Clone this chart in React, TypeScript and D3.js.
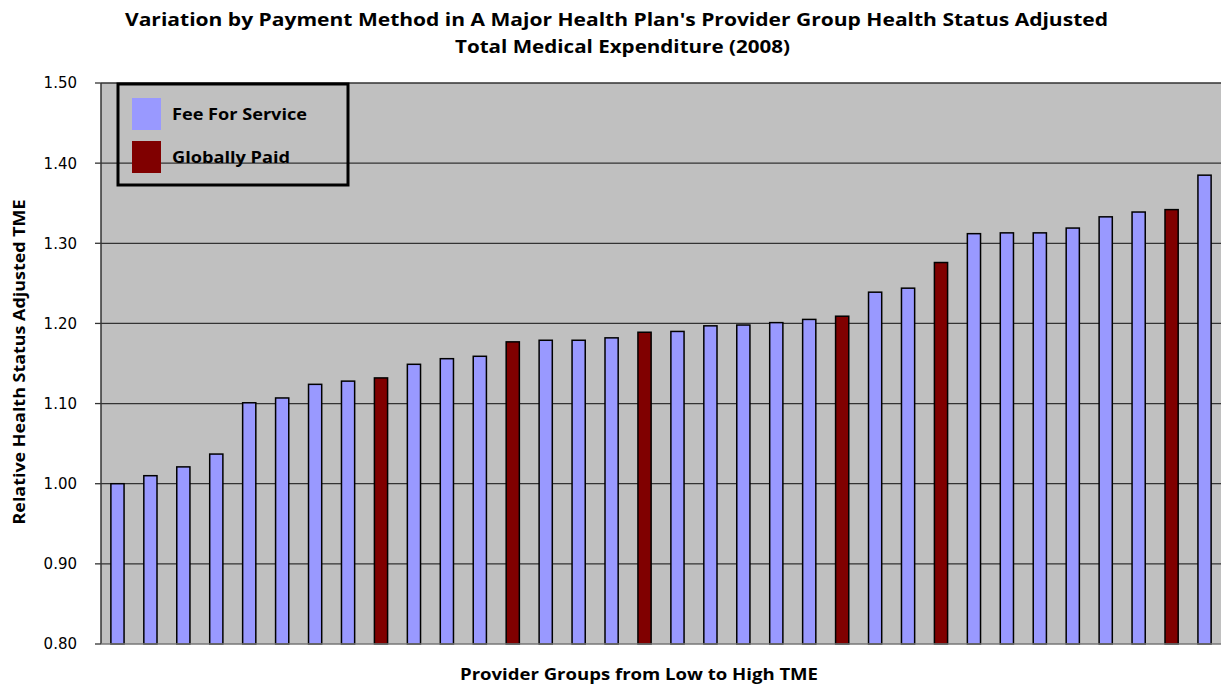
import * as d3 from 'd3'

// Provider groups sorted from low to high TME
const values = [
  1.0, 1.01, 1.021, 1.037, 1.101, 1.107, 1.124, 1.128, 1.132, 1.149, 1.156, 1.159,
  1.177, 1.179, 1.179, 1.182, 1.189, 1.19, 1.197, 1.198, 1.201, 1.205, 1.209, 1.239,
  1.244, 1.276, 1.312, 1.313, 1.313, 1.319, 1.333, 1.339, 1.342, 1.385,
]
// payment method for each group: F = Fee For Service, G = Globally Paid
const methods = [
  'F', 'F', 'F', 'F', 'F', 'F', 'F', 'F', 'G', 'F', 'F', 'F',
  'G', 'F', 'F', 'F', 'G', 'F', 'F', 'F', 'F', 'F', 'G', 'F',
  'F', 'G', 'F', 'F', 'F', 'F', 'F', 'F', 'G', 'F',
]
const legendItems = [
  { key: 'F', label: 'Fee For Service' },
  { key: 'G', label: 'Globally Paid' },
]
const yTicks = [0.8, 0.9, 1.0, 1.1, 1.2, 1.3, 1.4, 1.5]

const colors: Record<string, string> = { F: '#9999FF', G: '#800000' }

const W = 1222
const H = 685
const left = 101
const right = 1221
const top = 83
const bottom = 644
const bold = '"Open Sans", Lato, sans-serif'
const tickFont = '"DejaVu Sans", Verdana, sans-serif'

export default function App() {
  const x = d3
    .scaleBand<number>()
    .domain(d3.range(values.length))
    .range([left, right])
    .paddingInner(0.6)
    .paddingOuter(0.3)

  const y = d3.scaleLinear().domain([0.8, 1.5]).range([bottom, top])

  return (
    <svg
      width={W}
      height={H}
      style={{ position: 'absolute', left: 0, top: 0, background: '#fff' }}
    >
      {/* title */}
      <text
        x={125}
        y={26}
        fontFamily={bold}
        fontWeight="bold"
        fontSize={18}
        textLength={983}
        lengthAdjust="spacingAndGlyphs"
      >
        Variation by Payment Method in A Major Health Plan's Provider Group Health Status Adjusted
      </text>
      <text
        x={455}
        y={53}
        fontFamily={bold}
        fontWeight="bold"
        fontSize={18}
        textLength={335}
        lengthAdjust="spacingAndGlyphs"
      >
        Total Medical Expenditure (2008)
      </text>

      {/* plot area */}
      <rect x={left} y={top} width={right - left} height={bottom - top} fill="#C0C0C0" />

      {/* gridlines + ticks */}
      {yTicks.map(t => (
        <g key={t}>
          {t > 0.8 && (
            <line x1={left} x2={right} y1={y(t)} y2={y(t)} stroke="#333" strokeWidth={1.3} />
          )}
          <line x1={left - 6} x2={left} y1={y(t)} y2={y(t)} stroke="#333" strokeWidth={1.3} />
          <text
            x={77}
            y={y(t)}
            dy="0.36em"
            textAnchor="end"
            fontFamily={tickFont}
            fontSize={15}
            fill="#000"
          >
            {d3.format('.2f')(t)}
          </text>
        </g>
      ))}

      {/* bars */}
      {values.map((v, i) => (
        <rect
          key={i}
          x={x(i)}
          y={y(v)}
          width={x.bandwidth()}
          height={y(0.8) - y(v)}
          fill={colors[methods[i]]}
          stroke="#000"
          strokeWidth={1.5}
        />
      ))}

      {/* axes lines */}
      <line x1={left} x2={left} y1={top} y2={bottom} stroke="#333" strokeWidth={1.5} />
      <line x1={left} x2={right} y1={bottom} y2={bottom} stroke="#777" strokeWidth={1.5} />

      {/* legend */}
      <rect x={118} y={84} width={230} height={101} fill="none" stroke="#000" strokeWidth={3} />
      {legendItems.map((d, i) => (
        <g key={d.key}>
          <rect x={132} y={98 + i * 43} width={29} height={32} fill={colors[d.key]} />
          <text
            x={172}
            y={114 + i * 43}
            dy="0.35em"
            fontFamily={bold}
            fontWeight="bold"
            fontSize={16}
            textLength={i === 0 ? 135 : 118}
            lengthAdjust="spacingAndGlyphs"
          >
            {d.label}
          </text>
        </g>
      ))}

      {/* axis titles */}
      <text
        transform="translate(25,362) rotate(-90)"
        textAnchor="middle"
        fontFamily={bold}
        fontWeight="bold"
        fontSize={16}
        textLength={325}
        lengthAdjust="spacingAndGlyphs"
      >
        Relative Health Status Adjusted TME
      </text>
      <text
        x={639}
        y={680}
        textAnchor="middle"
        fontFamily={bold}
        fontWeight="bold"
        fontSize={16}
        textLength={358}
        lengthAdjust="spacingAndGlyphs"
      >
        Provider Groups from Low to High TME
      </text>
    </svg>
  )
}
